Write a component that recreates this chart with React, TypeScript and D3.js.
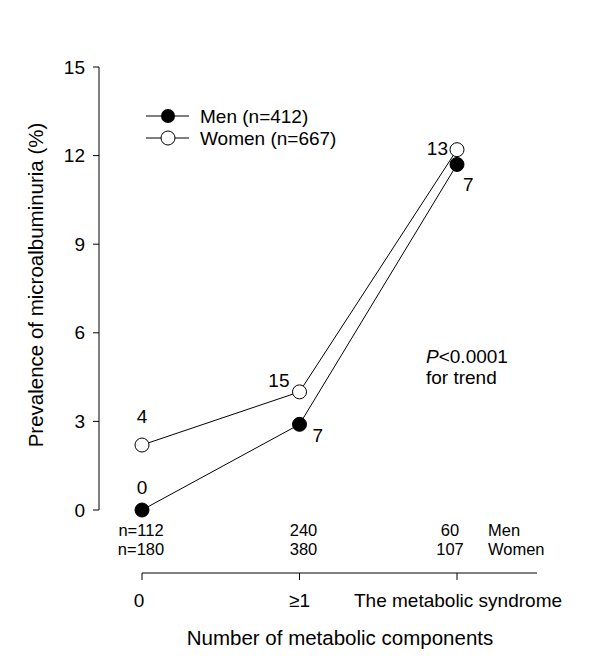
import React from "react";
import * as d3 from "d3";

const categories = ["0", "≥1", "The metabolic syndrome"];
const menValues = [0, 2.9, 11.7];
const womenValues = [2.2, 4.0, 12.2];
const menLabels = ["0", "7", "7"];
const womenLabels = ["4", "15", "13"];
const menN = ["n=112", "240", "60"];
const womenN = ["n=180", "380", "107"];
const yTicks = [0, 3, 6, 9, 12, 15];

const FONT = "Arial, 'Liberation Sans', sans-serif";

export default function App() {
  const W = 600, H = 667;
  const x = d3.scalePoint<string>().domain(categories).range([142, 457]);
  const y = d3.scaleLinear().domain([0, 15]).range([510, 67]);
  const line = d3.line<number>().x((_, i) => x(categories[i])!).y((d) => y(d));
  const xAxisY = 573;
  const fs = 19;
  const nfs = 16.5;
  const nOffsets = [-1, 4, -7];

  return (
    <svg width={W} height={H} style={{ position: "absolute", left: 0, top: 0, background: "#fff" }} fontFamily={FONT}>
      <rect x={0} y={0} width={W} height={H} fill="#fff" />
      {/* y axis */}
      <line x1={99} x2={99} y1={y(15)} y2={y(0)} stroke="#000" strokeWidth={1} />
      {yTicks.map((t) => (
        <g key={t}>
          <line x1={93} x2={99} y1={y(t)} y2={y(t)} stroke="#000" />
          <text x={85} y={y(t)} dy="0.35em" textAnchor="end" fontSize={fs}>{t}</text>
        </g>
      ))}
      <text transform={`translate(43,285) rotate(-90)`} textAnchor="middle" fontSize={20.5}>
        Prevalence of microalbuminuria (%)
      </text>

      {/* lines */}
      <path d={line(womenValues)!} fill="none" stroke="#000" strokeWidth={1} />
      <path d={line(menValues)!} fill="none" stroke="#000" strokeWidth={1} />
      {womenValues.map((v, i) => (
        <circle key={"w" + i} cx={x(categories[i])} cy={y(v)} r={7} fill="#fff" stroke="#000" strokeWidth={1} />
      ))}
      {menValues.map((v, i) => (
        <circle key={"m" + i} cx={x(categories[i])} cy={y(v)} r={7} fill="#000" stroke="#000" />
      ))}

      {/* data labels */}
      <text x={x(categories[0])} y={y(menValues[0]) - 16} textAnchor="middle" fontSize={fs}>{menLabels[0]}</text>
      <text x={x(categories[0])} y={y(womenValues[0]) - 22} textAnchor="middle" fontSize={fs}>{womenLabels[0]}</text>
      <text x={x(categories[1])! - 10} y={y(womenValues[1]) - 5} textAnchor="end" fontSize={fs}>{womenLabels[1]}</text>
      <text x={x(categories[1])! + 13} y={y(menValues[1]) + 18} textAnchor="start" fontSize={fs}>{menLabels[1]}</text>
      <text x={x(categories[2])! - 9} y={y(womenValues[2]) + 5} textAnchor="end" fontSize={fs}>{womenLabels[2]}</text>
      <text x={x(categories[2])! + 6} y={y(menValues[2]) + 27} textAnchor="start" fontSize={fs}>{menLabels[2]}</text>

      {/* legend */}
      <line x1={146} x2={189} y1={116} y2={116} stroke="#555" strokeWidth={1.5} />
      <circle cx={168} cy={116} r={7} fill="#000" />
      <text x={200} y={116} dy="0.35em" fontSize={fs}>Men (n=412)</text>
      <line x1={146} x2={189} y1={138} y2={138} stroke="#555" strokeWidth={1.5} />
      <circle cx={168} cy={138} r={7} fill="#fff" stroke="#000" />
      <text x={200} y={138} dy="0.35em" fontSize={fs}>Women (n=667)</text>

      {/* P value */}
      <text x={426} y={363} fontSize={fs}><tspan fontStyle="italic">P</tspan>&lt;0.0001</text>
      <text x={426} y={384} fontSize={fs}>for trend</text>

      {/* n counts */}
      {menN.map((t, i) => (
        <text key={"mn" + i} x={x(categories[i])! + nOffsets[i]} y={536} textAnchor="middle" fontSize={nfs}>{t}</text>
      ))}
      {womenN.map((t, i) => (
        <text key={"wn" + i} x={x(categories[i])! + nOffsets[i]} y={555} textAnchor="middle" fontSize={nfs}>{t}</text>
      ))}
      <text x={488} y={536} fontSize={nfs}>Men</text>
      <text x={488} y={555} fontSize={nfs}>Women</text>

      {/* x axis */}
      <line x1={x(categories[0])} x2={537} y1={xAxisY} y2={xAxisY} stroke="#000" />
      {categories.map((c, i) => (
        <line key={"xt" + i} x1={x(c)} x2={x(c)} y1={xAxisY} y2={xAxisY + 7} stroke="#000" />
      ))}
      <text x={x(categories[0])! - 3} y={607} textAnchor="middle" fontSize={fs}>{categories[0]}</text>
      <text x={x(categories[1])!} y={607} textAnchor="middle" fontSize={fs}>{categories[1]}</text>
      <text x={354} y={607} textAnchor="start" fontSize={fs}>{categories[2]}</text>
      <text x={340} y={645} textAnchor="middle" fontSize={20.5}>Number of metabolic components</text>
    </svg>
  );
}
